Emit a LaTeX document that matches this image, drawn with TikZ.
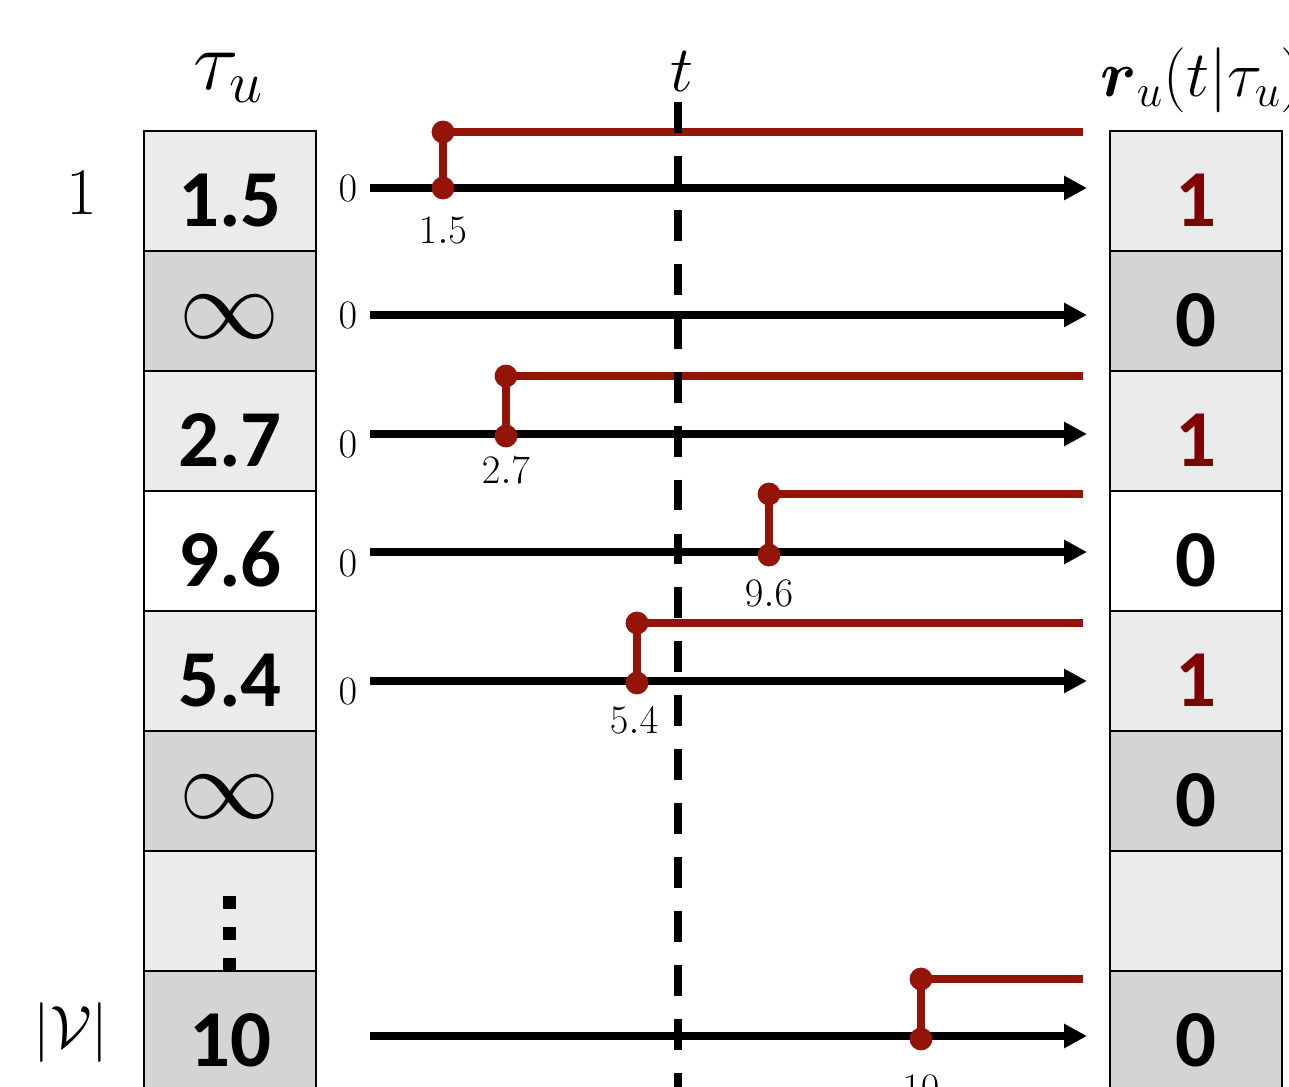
\RequirePackage{fix-cm}
\documentclass[tikz,border=0pt]{standalone}
\usepackage{amsmath}
\usepackage{amssymb}
\usepackage{fontspec}
\newfontfamily\cellfont{Carlito}
\usetikzlibrary{arrows.meta}
\definecolor{stepred}{RGB}{148,20,8}
\definecolor{onered}{RGB}{128,0,0}
\definecolor{lightcell}{RGB}{235,235,235}
\definecolor{darkcell}{RGB}{212,212,212}

\begin{document}
\begin{tikzpicture}[x=0.02cm,y=-0.02cm,
	cellbox/.style={draw, line width=1.1pt, minimum width=3.44cm, minimum height=2.4cm,
		inner sep=0pt, text height=1.44cm, text depth=0pt,
		font=\cellfont\bfseries\fontsize{46}{50}\selectfont},
	inftybox/.style={cellbox, text height=1.1cm, font=\fontsize{57}{62}\selectfont},
	timeline/.style={line width=4pt, -{Triangle[length=13pt,width=13pt]}},
	stepline/.style={stepred, line width=4pt},
	rdot/.style={circle, fill=stepred, inner sep=0pt, minimum size=13pt},
	small/.style={font=\fontsize{23}{26}\selectfont},
	tline/.style={line width=4pt, dash pattern=on 17.6pt off 13.1pt}]
		\useasboundingbox (0,0) rectangle (1289,1087);
		% headers
		\node[anchor=base] (htau) at (228,90) {\fontsize{48}{54}\selectfont$\tau_u$};
		\node[anchor=base] (ht) at (682,92) {\fontsize{37}{44}\selectfont$t$};
		\node[anchor=base west, inner sep=0pt] (hr) at (1100,97) {\fontsize{37}{44}\selectfont$\boldsymbol{r}_u(t|\tau_u)$};
		\node (first) at (82,193) {\fontsize{38}{44}\selectfont$1$};
		\node (last) at (71,1033) {\fontsize{34}{40}\selectfont$|\mathcal{V}|$};
		
		% left column
		\node[cellbox, fill=lightcell] (l1) at (230,191) {1.5};
		\node[inftybox, fill=darkcell] (l2) at (230,311) {$\infty$};
		\node[cellbox, fill=lightcell] (l3) at (230,431) {2.7};
		\node[cellbox, fill=white] (l4) at (230,551) {9.6};
		\node[cellbox, fill=lightcell] (l5) at (230,671) {5.4};
		\node[inftybox, fill=darkcell] (l6) at (230,791) {$\infty$};
		\node[cellbox, fill=lightcell] (l7) at (230,911) {};
		\foreach \yy in {902,933,964}
			\fill (222.5,\yy-6.5) rectangle ++(13,13);
		\node[cellbox, fill=darkcell] (l8) at (230,1031) {10};
		
		% right column
		\node[cellbox, fill=lightcell, text=onered] (r1) at (1196,191) {1};
		\node[cellbox, fill=darkcell] (r2) at (1196,311) {0};
		\node[cellbox, fill=lightcell, text=onered] (r3) at (1196,431) {1};
		\node[cellbox, fill=white] (r4) at (1196,551) {0};
		\node[cellbox, fill=lightcell, text=onered] (r5) at (1196,671) {1};
		\node[cellbox, fill=darkcell] (r6) at (1196,791) {0};
		\node[cellbox, fill=lightcell] (r7) at (1196,911) {};
		\node[cellbox, fill=darkcell] (r8) at (1196,1031) {0};
		
		% time axes
		\coordinate (s1) at (370,188);  \coordinate (e1) at (1087,188);
		\coordinate (s2) at (370,315);  \coordinate (e2) at (1087,315);
		\coordinate (s3) at (370,434);  \coordinate (e3) at (1087,434);
		\coordinate (s4) at (370,552);  \coordinate (e4) at (1087,552);
		\coordinate (s5) at (370,681);  \coordinate (e5) at (1087,681);
		\coordinate (s8) at (370,1036); \coordinate (e8) at (1087,1036);
		\draw[timeline] (s1) to (e1);
		\draw[timeline] (s2) to (e2);
		\draw[timeline] (s3) to (e3);
		\draw[timeline] (s4) to (e4);
		\draw[timeline] (s5) to (e5);
		\draw[timeline] (s8) to (e8);
		\node[small] (z1) at (348,188) {$0$};
		\node[small] (z2) at (348,315) {$0$};
		\node[small] (z3) at (348,444) {$0$};
		\node[small] (z4) at (348,563) {$0$};
		\node[small] (z5) at (348,691) {$0$};
		
		% steps
		\coordinate (p1) at (443,188);  \coordinate (q1) at (443,132); \coordinate (f1) at (1083,132);
		\coordinate (p3) at (506,436);  \coordinate (q3) at (506,376); \coordinate (f3) at (1083,376);
		\coordinate (p4) at (769,555);  \coordinate (q4) at (769,494); \coordinate (f4) at (1083,494);
		\coordinate (p5) at (637,683);  \coordinate (q5) at (637,623); \coordinate (f5) at (1083,623);
		\coordinate (p8) at (921,1039); \coordinate (q8) at (921,979); \coordinate (f8) at (1083,979);
		\draw[stepline] (p1) -- (q1) -- (f1);
		\draw[stepline] (p3) -- (q3) -- (f3);
		\draw[stepline] (p4) -- (q4) -- (f4);
		\draw[stepline] (p5) -- (q5) -- (f5);
		\draw[stepline] (p8) -- (q8) -- (f8);
		\node[rdot] (dp1) at (p1) {}; \node[rdot] (dq1) at (q1) {};
		\node[rdot] (dp3) at (p3) {}; \node[rdot] (dq3) at (q3) {};
		\node[rdot] (dp4) at (p4) {}; \node[rdot] (dq4) at (q4) {};
		\node[rdot] (dp5) at (p5) {}; \node[rdot] (dq5) at (q5) {};
		\node[rdot] (dp8) at (p8) {}; \node[rdot] (dq8) at (q8) {};
		\node[small] (v1) at (443,230) {$1.5$};
		\node[small] (v3) at (506,470) {$2.7$};
		\node[small] (v4) at (769,593) {$9.6$};
		\node[small] (v5) at (634,720) {$5.4$};
		\node[small] (v8) at (921,1088) {$10$};
		
		% current time
		\coordinate (ttop) at (678,102);
		\coordinate (tbot) at (678,1100);
		\draw[tline] (ttop) -- (tbot);
\end{tikzpicture}
\end{document}
